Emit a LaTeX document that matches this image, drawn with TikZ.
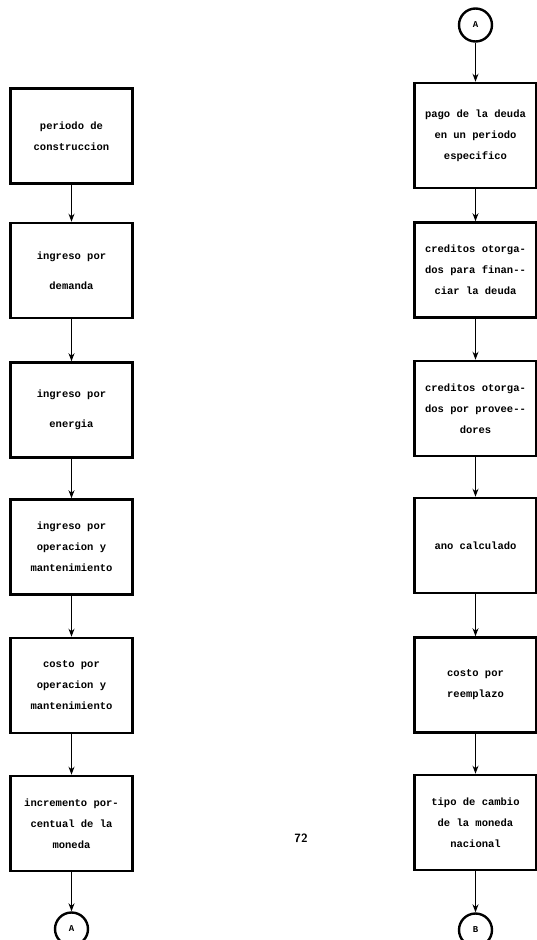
\documentclass[tikz,border=0pt]{standalone}
\usepackage{fontspec}
\setmonofont{Liberation Mono}
\usetikzlibrary{arrows.meta}

\tikzset{
	caja/.style={draw, line width=2.6pt, minimum width=122pt, minimum height=95pt, inner sep=0pt, align=center, font=\ttfamily\bfseries\fontsize{10.5}{21}\selectfont},
	flecha/.style={-{Stealth[length=8pt, width=6pt]}, line width=1.1pt},
	conector/.style={draw, circle, line width=2.4pt, minimum size=33pt, inner sep=0pt, font=\ttfamily\bfseries\small},
}

\begin{document}
\begin{tikzpicture}[x=1pt, y=1pt]
	\useasboundingbox (0, 0) rectangle (537, -940);
	% Left column:
	\node[caja](L1) at (71.5, -136){periodo de\\construccion};
	\node[caja](L2) at (71.5, -270.5){ingreso por\\[9pt]demanda};
	\node[caja](L3) at (71.5, -410){ingreso por\\[9pt]energia};
	\node[caja](L4) at (71.5, -547){ingreso por\\operacion y\\mantenimiento};
	\node[caja](L5) at (71.5, -685.5){costo por\\operacion y\\mantenimiento};
	\node[caja](L6) at (71.5, -823.5){incremento por-\\centual de la\\moneda};
	\node[conector](CL) at (71.5, -929){A};
	% Right column:
	\node[conector](CR1) at (475.5, -25){A};
	\node[caja, minimum height=105pt](R1) at (475.5, -135.5){pago de la deuda\\en un periodo\\especifico};
	\node[caja](R2) at (475.5, -270){creditos otorga-\\dos para finan--\\ciar la deuda};
	\node[caja](R3) at (475.5, -408.5){creditos otorga-\\dos por provee--\\dores};
	\node[caja](R4) at (475.5, -545.5){ano calculado};
	\node[caja](R5) at (475.5, -685){costo por\\reemplazo};
	\node[caja](R6) at (475.5, -822.5){tipo de cambio\\de la moneda\\nacional};
	\node[conector](CR2) at (475.5, -930){B};
	% Page number:
	\node[font=\sffamily\bfseries\large](pag) at (301, -838){72};
	% Arrows:
	\draw[flecha] (L1) -- (L2);
	\draw[flecha] (L2) -- (L3);
	\draw[flecha] (L3) -- (L4);
	\draw[flecha] (L4) -- (L5);
	\draw[flecha] (L5) -- (L6);
	\draw[flecha] (L6) -- (CL);
	\draw[flecha] (CR1) -- (R1);
	\draw[flecha] (R1) -- (R2);
	\draw[flecha] (R2) -- (R3);
	\draw[flecha] (R3) -- (R4);
	\draw[flecha] (R4) -- (R5);
	\draw[flecha] (R5) -- (R6);
	\draw[flecha] (R6) -- (CR2);
\end{tikzpicture}
\end{document}
